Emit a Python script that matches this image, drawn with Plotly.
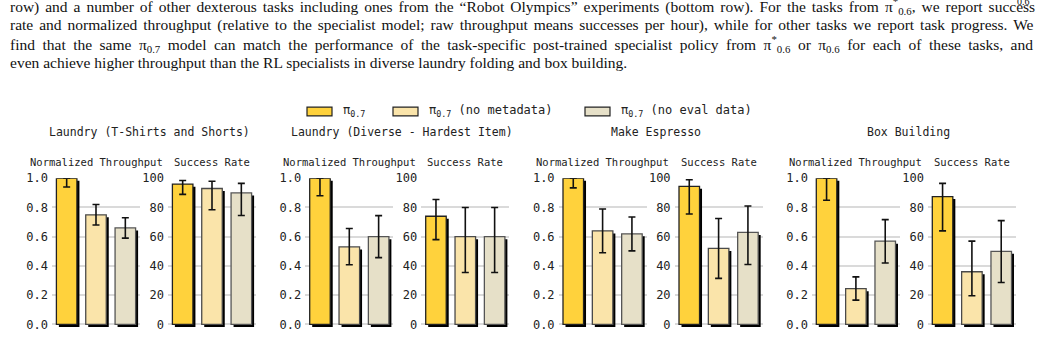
import plotly.graph_objects as go

# ---------------- data ----------------
tasks = ["Laundry (T-Shirts and Shorts)", "Laundry (Diverse - Hardest Item)",
         "Make Espresso", "Box Building"]
series = ["π<sub>0.7</sub>", "π<sub>0.7</sub> (no metadata)", "π<sub>0.7</sub> (no eval data)"]

nt_vals = [[1.00, 0.75, 0.66], [1.00, 0.53, 0.60], [1.00, 0.64, 0.62], [1.00, 0.245, 0.57]]
nt_hi   = [[1.00, 0.82, 0.73], [1.00, 0.656, 0.744], [1.00, 0.79, 0.735], [1.00, 0.325, 0.717]]
nt_lo   = [[0.94, 0.68, 0.59], [0.88, 0.408, 0.457], [0.934, 0.49, 0.503], [0.85, 0.166, 0.42]]

sr_vals = [[96, 93, 90], [74, 60, 60], [94.5, 52, 63], [87.5, 36, 50]]
sr_hi   = [[98.5, 98, 96.5], [85.5, 80, 80], [99, 72.5, 81], [96.5, 57, 71]]
sr_lo   = [[89, 78.5, 74.5], [58, 35.5, 35.5], [75.5, 31.5, 41], [64, 19.6, 28.7]]

nt_ticks = [0.0, 0.2, 0.4, 0.6, 0.8, 1.0]
nt_ticklabels = ["0.0", "0.2", "0.4", "0.6", "0.8", "1.0"]
sr_ticks = [0, 20, 40, 60, 80, 100]
sr_ticklabels = ["0", "20", "40", "60", "80", "100"]

paper_lines = [
    "row) and a number of other dexterous tasks including ones from the “Robot Olympics” experiments (bottom row). For the tasks from π<sup>*</sup><sub>0.6</sub>, we report success",
    "rate and normalized throughput (relative to the specialist model; raw throughput means successes per hour), while for other tasks we report task progress. We",
    "find that the same π<sub>0.7</sub> model can match the performance of the task-specific post-trained specialist policy from π<sup>*</sup><sub>0.6</sub> or π<sub>0.6</sub> for each of these tasks, and",
    "even achieve higher throughput than the RL specialists in diverse laundry folding and box building.",
]

# ---------------- style ----------------
W, H = 1041, 340
colors = ["#FFD23C", "#FAE4AA", "#E6E0C8"]
edge_colors = ["#222222", "#4a4a4a", "#555555"]
MONO = "DejaVu Sans Mono"
SERIF = "Liberation Serif"
line_word_spacing = [2.1, 2.1, 3.6, 0]
line_y = [-1, 18.5, 38, 57.5]

def px_x(p):
    return p / W

def px_y(p):
    return 1 - p / H

fig = go.Figure()

group_step = 253.3
nt_left0, sr_left0, sub_w = 52, 168, 88
y_top, y_bot = 177, 331
xs = [0, 1, 2]
shadow_dx = 0.085

annotations = []
axis_i = 0
for g in range(4):
    for kind in range(2):
        axis_i += 1
        left = (nt_left0 if kind == 0 else sr_left0) + g * group_step
        xa = "x" if axis_i == 1 else f"x{axis_i}"
        ya = "y" if axis_i == 1 else f"y{axis_i}"
        if kind == 0:
            vals, hi, lo = nt_vals[g], nt_hi[g], nt_lo[g]
            ymax, tv, tt = 1.0, nt_ticks, nt_ticklabels
        else:
            vals, hi, lo = sr_vals[g], sr_hi[g], sr_lo[g]
            ymax, tv, tt = 100, sr_ticks, sr_ticklabels
        dy = ymax * 0.0175
        ymin = -ymax * 0.02
        # shadow
        fig.add_trace(go.Bar(
            x=xs, y=vals, base=[-dy] * 3, width=0.7, offset=-0.35 + shadow_dx,
            marker=dict(color="black", line=dict(width=0)),
            xaxis=xa, yaxis=ya, showlegend=False, hoverinfo="skip", cliponaxis=False,
        ))
        # main bars
        fig.add_trace(go.Bar(
            x=xs, y=vals, width=0.7, offset=-0.35,
            marker=dict(color=colors, line=dict(color=edge_colors, width=1.3)),
            error_y=dict(type="data", symmetric=False,
                         array=[h - v for h, v in zip(hi, vals)],
                         arrayminus=[v - l for v, l in zip(vals, lo)],
                         color="#111111", thickness=1.6, width=3.5),
            xaxis=xa, yaxis=ya, showlegend=False, cliponaxis=False,
        ))
        xd = [px_x(left), px_x(left + sub_w)]
        fig.layout[f"xaxis{'' if axis_i == 1 else axis_i}"] = dict(
            domain=xd, range=[-0.5, 2.5], anchor=ya, showgrid=False,
            zeroline=False, showticklabels=False, ticks="", showline=False,
        )
        fig.layout[f"yaxis{'' if axis_i == 1 else axis_i}"] = dict(
            domain=[px_y(y_bot), px_y(y_top)], range=[ymin, ymax], anchor=xa,
            tickvals=tv, ticktext=tt, showgrid=True, gridcolor="#dadada",
            gridwidth=1.5, zeroline=False, showline=False, ticks="",
            tickfont=dict(family=MONO, size=12, color="#222222"),
            ticklabelstandoff=3,
        )
        annotations.append(dict(
            text="Normalized Throughput" if kind == 0 else "Success Rate",
            x=px_x(left + sub_w / 2), y=px_y(160), xref="paper", yref="paper",
            showarrow=False, xanchor="center", yanchor="middle",
            font=dict(family=MONO, size=10.5, color="#222222"),
        ))
    # group title
    gc = (nt_left0 + sr_left0 + sub_w) / 2 + g * group_step - 5
    annotations.append(dict(
        text=tasks[g], x=px_x(gc), y=px_y(129), xref="paper", yref="paper",
        showarrow=False, xanchor="center", yanchor="middle",
        font=dict(family=MONO, size=11.5, color="#222222"),
    ))

# legend (patches + labels)
shapes = []
leg_x = [307, 393, 585]
for i, name in enumerate(series):
    shapes.append(dict(type="rect", xref="paper", yref="paper",
                       x0=px_x(leg_x[i]), x1=px_x(leg_x[i] + 25),
                       y0=px_y(112.5), y1=px_y(103.5),
                       fillcolor=colors[i], line=dict(color="#222222", width=1.2)))
    annotations.append(dict(
        text=name, x=px_x(leg_x[i] + 34), y=px_y(107), xref="paper", yref="paper",
        showarrow=False, xanchor="left", yanchor="middle",
        font=dict(family=MONO, size=12, color="#222222"),
    ))

# paper body text above figure
for t, yy, ws in zip(paper_lines, line_y, line_word_spacing):
    annotations.append(dict(
        text=f'<span style="word-spacing:{ws}px">{t}</span>',
        x=px_x(8), y=px_y(yy), xref="paper", yref="paper",
        showarrow=False, xanchor="left", yanchor="middle",
        font=dict(family=SERIF, size=15.5, color="#111111"),
    ))
# clipped fragment of the previous (off-screen) line
annotations.append(dict(
    text="0.6", x=px_x(1015), y=px_y(2.5), xref="paper", yref="paper",
    showarrow=False, xanchor="left", yanchor="bottom",
    font=dict(family=SERIF, size=10, color="#111111"),
))

fig.update_layout(
    width=W, height=H, margin=dict(l=0, r=0, t=0, b=0),
    paper_bgcolor="white", plot_bgcolor="white",
    barmode="overlay", showlegend=False,
    annotations=annotations, shapes=shapes,
)

fig.write_html("out.html")
